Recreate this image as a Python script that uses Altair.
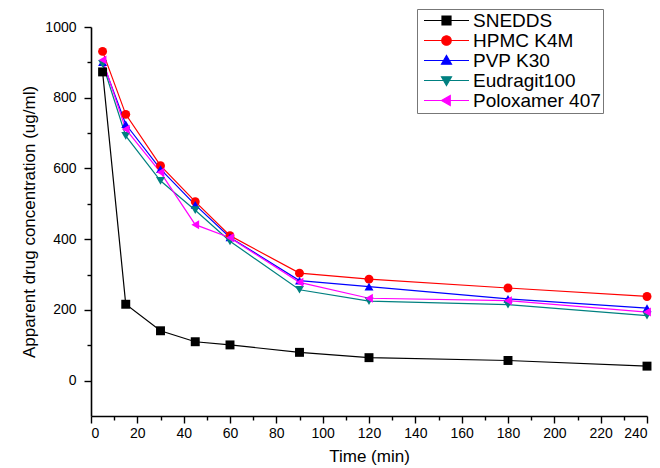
import altair as alt
import pandas as pd

times = [5, 15, 30, 45, 60, 90, 120, 180, 240]
series_names = ["SNEDDS", "HPMC K4M", "PVP K30", "Eudragit100", "Poloxamer 407"]
snedds = [873, 216, 141, 110, 101, 80, 65, 57, 41]
hpmc = [931, 753, 608, 506, 410, 304, 287, 262, 238]
pvp = [901, 725, 598, 497, 405, 283, 266, 231, 205]
eudragit = [896, 692, 565, 482, 394, 257, 225, 215, 184]
poloxamer = [907, 711, 589, 441, 404, 278, 233, 226, 194]
colors = ["#000000", "#FF0000", "#0000FF", "#008080", "#FF00FF"]
shapes = ["square", "circle", "triangle-up", "triangle-down", "triangle-left"]
# legend glyphs: a line through the marker (unit = half of sqrt(symbol size))
line_part = "M-4.5,0H4.5"
legend_shapes = [
    line_part + "M-0.9,-0.9H0.9V0.9H-0.9Z",
    line_part + "M0.95,0A0.95,0.95 0 1,1 -0.95,0A0.95,0.95 0 1,1 0.95,0Z",
    line_part + "M0,-1L1,0.75L-1,0.75Z",
    line_part + "M0,1L1,-0.75L-1,-0.75Z",
    line_part + "M-1,0L0.75,-1L0.75,1Z",
]
x_ticks = list(range(0, 250, 10))
y_ticks = list(range(0, 1001, 100))

rows = []
for name, vals in zip(series_names, [snedds, hpmc, pvp, eudragit, poloxamer]):
    for t, v in zip(times, vals):
        rows.append({"Time": t, "Conc": v, "Series": name})
df = pd.DataFrame(rows)

FONT = "Liberation Sans"

x_enc = alt.X(
    "Time:Q",
    scale=alt.Scale(domain=[0, 240], nice=False, zero=False),
    axis=alt.Axis(
        title="Time (min)",
        values=x_ticks,
        format="d",
        labelExpr="datum.value % 20 === 0 ? datum.label : ''",
        tickSize={"condition": {"test": "datum.value % 20 === 0", "value": 7}, "value": 4},
        labelPadding=3,
        titlePadding=8,
    ),
)
y_enc = alt.Y(
    "Conc:Q",
    scale=alt.Scale(domain=[-100, 1000], nice=False, zero=False),
    axis=alt.Axis(
        title="Apparent drug concentration (ug/ml)",
        values=y_ticks,
        format="d",
        labelExpr="datum.value % 200 === 0 ? datum.label : ''",
        tickSize={"condition": {"test": "datum.value % 200 === 0", "value": 7}, "value": 4},
        labelPadding=8,
        titlePadding=6,
    ),
)

lines = alt.Chart(df).mark_line(strokeWidth=1.2).encode(
    x=x_enc,
    y=y_enc,
    color=alt.Color("Series:N", scale=alt.Scale(domain=series_names, range=colors), legend=None),
    detail="Series:N",
)

points = alt.Chart(df).mark_point(filled=True, opacity=1, size=80).encode(
    x=x_enc,
    y=y_enc,
    color=alt.Color("Series:N", scale=alt.Scale(domain=series_names, range=colors), legend=None),
    shape=alt.Shape("Series:N", scale=alt.Scale(domain=series_names, range=shapes), legend=None),
)

leg = dict(
    title=None,
    orient="none",
    legendX=326,
    legendY=-18,
    symbolSize=100,
    symbolOffset=18,
    symbolStrokeWidth=1.2,
    labelFont=FONT,
    labelFontSize=19,
    labelColor="black",
    labelOffset=17,
    rowPadding=0,
    padding=2,
    strokeColor="#777777",
    labelLimit=300,
)

legend_layer = (
    alt.Chart(df)
    .transform_filter("datum.Conc < -5000")
    .mark_point(filled=True, opacity=1, strokeWidth=1.2)
    .encode(
        x=x_enc,
        y=y_enc,
        fill=alt.Fill(
            "Series:N",
            scale=alt.Scale(domain=series_names, range=colors),
            sort=series_names,
            legend=alt.Legend(**leg),
        ),
        stroke=alt.Stroke(
            "Series:N",
            scale=alt.Scale(domain=series_names, range=colors),
            sort=series_names,
            legend=alt.Legend(**leg),
        ),
        shape=alt.Shape(
            "Series:N",
            scale=alt.Scale(domain=series_names, range=legend_shapes),
            sort=series_names,
            legend=alt.Legend(**leg),
        ),
    )
)

chart = (
    alt.layer(lines, points, legend_layer)
    .resolve_scale(color="independent", shape="independent", fill="independent", stroke="independent")
    .properties(
        width=556,
        height=389,
        padding={"left": 91, "top": 27, "right": 13, "bottom": 52},
        autosize=alt.AutoSizeParams(type="none"),
        background="white",
    )
    .configure_view(stroke=None)
    .configure_axis(
        grid=False,
        domainColor="black",
        domainWidth=1.6,
        tickColor="black",
        tickWidth=1.4,
        labelFont=FONT,
        labelFontSize=14,
        labelColor="black",
        titleFont=FONT,
        titleFontSize=17,
        titleFontWeight="normal",
        titleColor="black",
    )
)

chart.save("out.html", embed_options={"renderer": "svg", "actions": False})
